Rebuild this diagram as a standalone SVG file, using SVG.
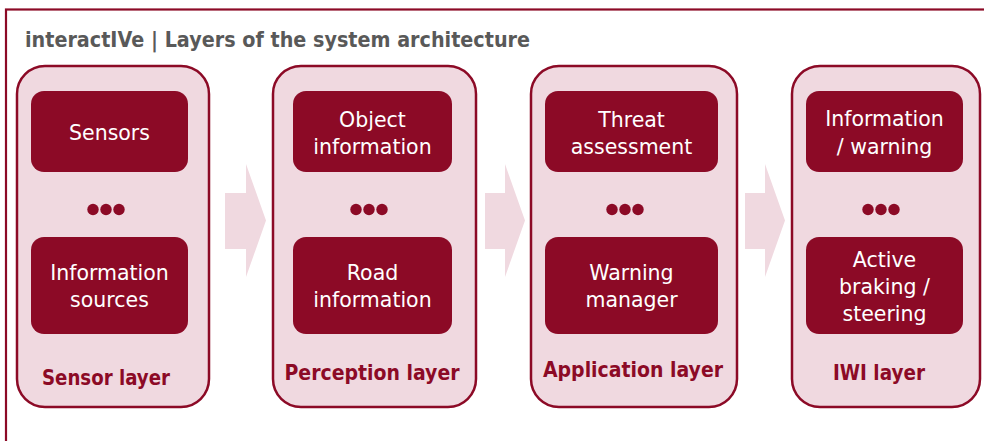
<svg xmlns="http://www.w3.org/2000/svg" width="984" height="441" viewBox="0 0 984 441">
<style>
.frame{fill:none;stroke:#8C0A26;stroke-width:2.2}
.layer{fill:#F0D9E0;stroke:#8C0A26;stroke-width:2.5}
.box{fill:#8C0A26}
.dot{fill:#8C0A26}
.arrow{fill:#F0D9E0}
.t{font-family:"DejaVu Sans","Liberation Sans",sans-serif;font-size:20.5px;fill:#ffffff;text-anchor:middle}
.lbl{font-family:"DejaVu Sans","Liberation Sans",sans-serif;font-size:21px;font-weight:bold;fill:#8C0A26;text-anchor:middle}
.title{font-family:"DejaVu Sans","Liberation Sans",sans-serif;font-size:21px;font-weight:bold;fill:#595959}
</style>
<rect class="frame" x="6" y="9.5" width="1000" height="500"/>
<text class="title" x="25" y="46.5" textLength="505" lengthAdjust="spacingAndGlyphs">interactIVe | Layers of the system architecture</text>
<g id="connectors">
<path class="arrow" d="M225,193 H246 V164 L266,220.5 L246,277 V249 H225 Z"/>
<path class="arrow" d="M485,193 H505 V164 L525,220.5 L505,277 V249 H485 Z"/>
<path class="arrow" d="M745,193 H765 V164 L785,220.5 L765,277 V249 H745 Z"/>
</g>
<g id="sensor-layer">
<rect class="layer" x="17" y="66" width="192" height="341" rx="28"/>
<text class="lbl" x="106" y="385" textLength="128" lengthAdjust="spacingAndGlyphs">Sensor layer</text>
</g>
<g id="sensors">
<rect class="box" x="31" y="91" width="157" height="81" rx="13"/>
<text class="t" x="109.5" y="140">Sensors</text>
</g>
<g id="dots-1"><circle class="dot" cx="93" cy="209.5" r="5.7"/><circle class="dot" cx="106" cy="209.5" r="5.7"/><circle class="dot" cx="119" cy="209.5" r="5.7"/></g>
<g id="information-sources">
<rect class="box" x="31" y="237" width="157" height="97" rx="13"/>
<text class="t" x="109.5" y="280">Information</text>
<text class="t" x="109.5" y="307">sources</text>
</g>
<g id="perception-layer">
<rect class="layer" x="273" y="66" width="203" height="341" rx="28"/>
<text class="lbl" x="372" y="380" textLength="175" lengthAdjust="spacingAndGlyphs">Perception layer</text>
</g>
<g id="object-information">
<rect class="box" x="293" y="91" width="159" height="81" rx="13"/>
<text class="t" x="372.5" y="127">Object</text>
<text class="t" x="372.5" y="154">information</text>
</g>
<g id="dots-2"><circle class="dot" cx="356" cy="209.5" r="5.7"/><circle class="dot" cx="369" cy="209.5" r="5.7"/><circle class="dot" cx="382" cy="209.5" r="5.7"/></g>
<g id="road-information">
<rect class="box" x="293" y="237" width="159" height="97" rx="13"/>
<text class="t" x="372.5" y="280">Road</text>
<text class="t" x="372.5" y="307">information</text>
</g>
<g id="application-layer">
<rect class="layer" x="531" y="66" width="206" height="341" rx="28"/>
<text class="lbl" x="633" y="377" textLength="180" lengthAdjust="spacingAndGlyphs">Application layer</text>
</g>
<g id="threat-assessment">
<rect class="box" x="545" y="91" width="173" height="81" rx="13"/>
<text class="t" x="631.5" y="127">Threat</text>
<text class="t" x="631.5" y="154">assessment</text>
</g>
<g id="dots-3"><circle class="dot" cx="612" cy="209.5" r="5.7"/><circle class="dot" cx="625" cy="209.5" r="5.7"/><circle class="dot" cx="638" cy="209.5" r="5.7"/></g>
<g id="warning-manager">
<rect class="box" x="545" y="237" width="173" height="97" rx="13"/>
<text class="t" x="631.5" y="280">Warning</text>
<text class="t" x="631.5" y="307">manager</text>
</g>
<g id="iwi-layer">
<rect class="layer" x="792" y="66" width="188" height="341" rx="28"/>
<text class="lbl" x="879" y="380" textLength="92" lengthAdjust="spacingAndGlyphs">IWI layer</text>
</g>
<g id="information-warning">
<rect class="box" x="806" y="91" width="157" height="81" rx="13"/>
<text class="t" x="884.5" y="126">Information</text>
<text class="t" x="884.5" y="154">/ warning</text>
</g>
<g id="dots-4"><circle class="dot" cx="868" cy="209.5" r="5.7"/><circle class="dot" cx="881" cy="209.5" r="5.7"/><circle class="dot" cx="894" cy="209.5" r="5.7"/></g>
<g id="active-braking-steering">
<rect class="box" x="806" y="237" width="157" height="97" rx="13"/>
<text class="t" x="884.5" y="267">Active</text>
<text class="t" x="884.5" y="294">braking /</text>
<text class="t" x="884.5" y="321">steering</text>
</g>
</svg>
